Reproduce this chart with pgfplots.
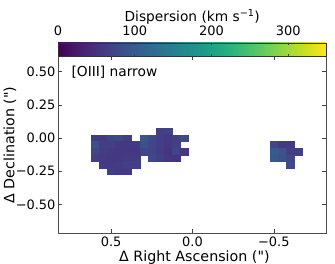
\documentclass[border=0pt]{standalone}
\usepackage{pgfplots}
\pgfplotsset{compat=1.18}
\usepackage{fontspec}
\setmainfont{DejaVu Sans}
\newfontfamily\qf{DejaVu Sans}
\begin{document}
\begin{tikzpicture}[x=1bp,y=1bp]
\useasboundingbox (-58,-30.5) rectangle (277,233.5);
\begin{axis}[
  at={(0,0)},anchor=south west,
  scale only axis,width=268.5bp,height=177bp,
  x dir=reverse,xmin=-0.824,xmax=0.827,
  ymin=-0.72,ymax=0.615,
  xtick={0.5,0,-0.5},xticklabels={0.5,0.0,−0.5},
  ytick={0.5,0.25,0,-0.25,-0.5},yticklabels={0.50,0.25,0.00,−0.25,−0.50},
  tick align=inside,major tick length=4bp,
  tick style={black!75,line width=0.6bp},
  axis line style={black!70,line width=0.8bp},
  tick pos=both,
  ticklabel style={font=\fontsize{13}{15}\selectfont},
  xticklabel style={yshift=0bp},
  yticklabel style={xshift=1bp},
  xlabel={Δ Right Ascension ({\qf "})},
  ylabel={Δ Declination ({\qf "})},
  label style={font=\fontsize{14.3}{16}\selectfont},
  xlabel style={at={(axis description cs:0.508,0)},anchor=base,yshift=-28bp},
  ylabel style={at={(axis description cs:0,0.5)},anchor=base,yshift=43.5bp},
  colormap/viridis,
  point meta min=0,point meta max=350,
  colorbar horizontal,
  colorbar style={
    at={(0,1)},anchor=south west,yshift=2bp,
    width=268.5bp,height=13.5bp,
    scale only axis,
    xtick={0,100,200,300},
    xticklabel pos=upper,
    tick align=inside,major tick length=2.5bp,
    ticklabel style={font=\fontsize{13}{15}\selectfont,yshift=4bp},
    xticklabels={0,100,200,300},
    xlabel={Dispersion (km s\textsuperscript{−1})},
    xlabel style={font=\fontsize{13.8}{15}\selectfont,yshift=-5.5bp},
    axis line style={black!80,line width=0.6bp},
  },
]
\addplot[scatter,only marks,mark=square*,mark size=4.065bp,
  mark options={yscale=0.815,line width=0.1bp},
  scatter/use mapped color={fill=mapped color,draw=mapped color},
  point meta=explicit] table[meta=v] {
x y v
0.20 0.05 63
0.15 0.05 67
0.60 0.00 59
0.55 0.00 59
0.50 0.00 72
0.45 0.00 74
0.40 0.00 62
0.30 0.00 91
0.25 0.00 76
0.20 0.00 64
0.15 0.00 59
0.10 0.00 65
0.05 0.00 76
0.60 -0.05 87
0.55 -0.05 63
0.50 -0.05 65
0.45 -0.05 59
0.40 -0.05 57
0.35 -0.05 58
0.30 -0.05 85
0.25 -0.05 73
0.20 -0.05 63
0.15 -0.05 55
0.10 -0.05 63
0.60 -0.10 74
0.55 -0.10 62
0.50 -0.10 59
0.45 -0.10 57
0.40 -0.10 55
0.35 -0.10 55
0.30 -0.10 72
0.25 -0.10 72
0.20 -0.10 61
0.15 -0.10 53
0.10 -0.10 72
0.05 -0.10 55
0.60 -0.15 65
0.55 -0.15 58
0.50 -0.15 57
0.45 -0.15 57
0.40 -0.15 58
0.35 -0.15 59
0.25 -0.15 76
0.20 -0.15 67
0.15 -0.15 55
0.10 -0.15 52
0.55 -0.20 59
0.50 -0.20 59
0.45 -0.20 61
0.40 -0.20 63
0.35 -0.20 65
0.50 -0.25 65
0.45 -0.25 58
0.40 -0.25 59
-0.50 -0.05 73
-0.55 -0.05 59
-0.60 -0.05 61
-0.50 -0.10 99
-0.55 -0.10 91
-0.60 -0.10 65
-0.65 -0.10 65
-0.50 -0.15 95
-0.55 -0.15 87
-0.60 -0.15 73
-0.60 -0.20 78
};
\node[anchor=base west,font=\fontsize{13.8}{15}\selectfont] at (axis cs:0.765,0.465) {[OIII] narrow};
\end{axis}
\end{tikzpicture}
\end{document}
